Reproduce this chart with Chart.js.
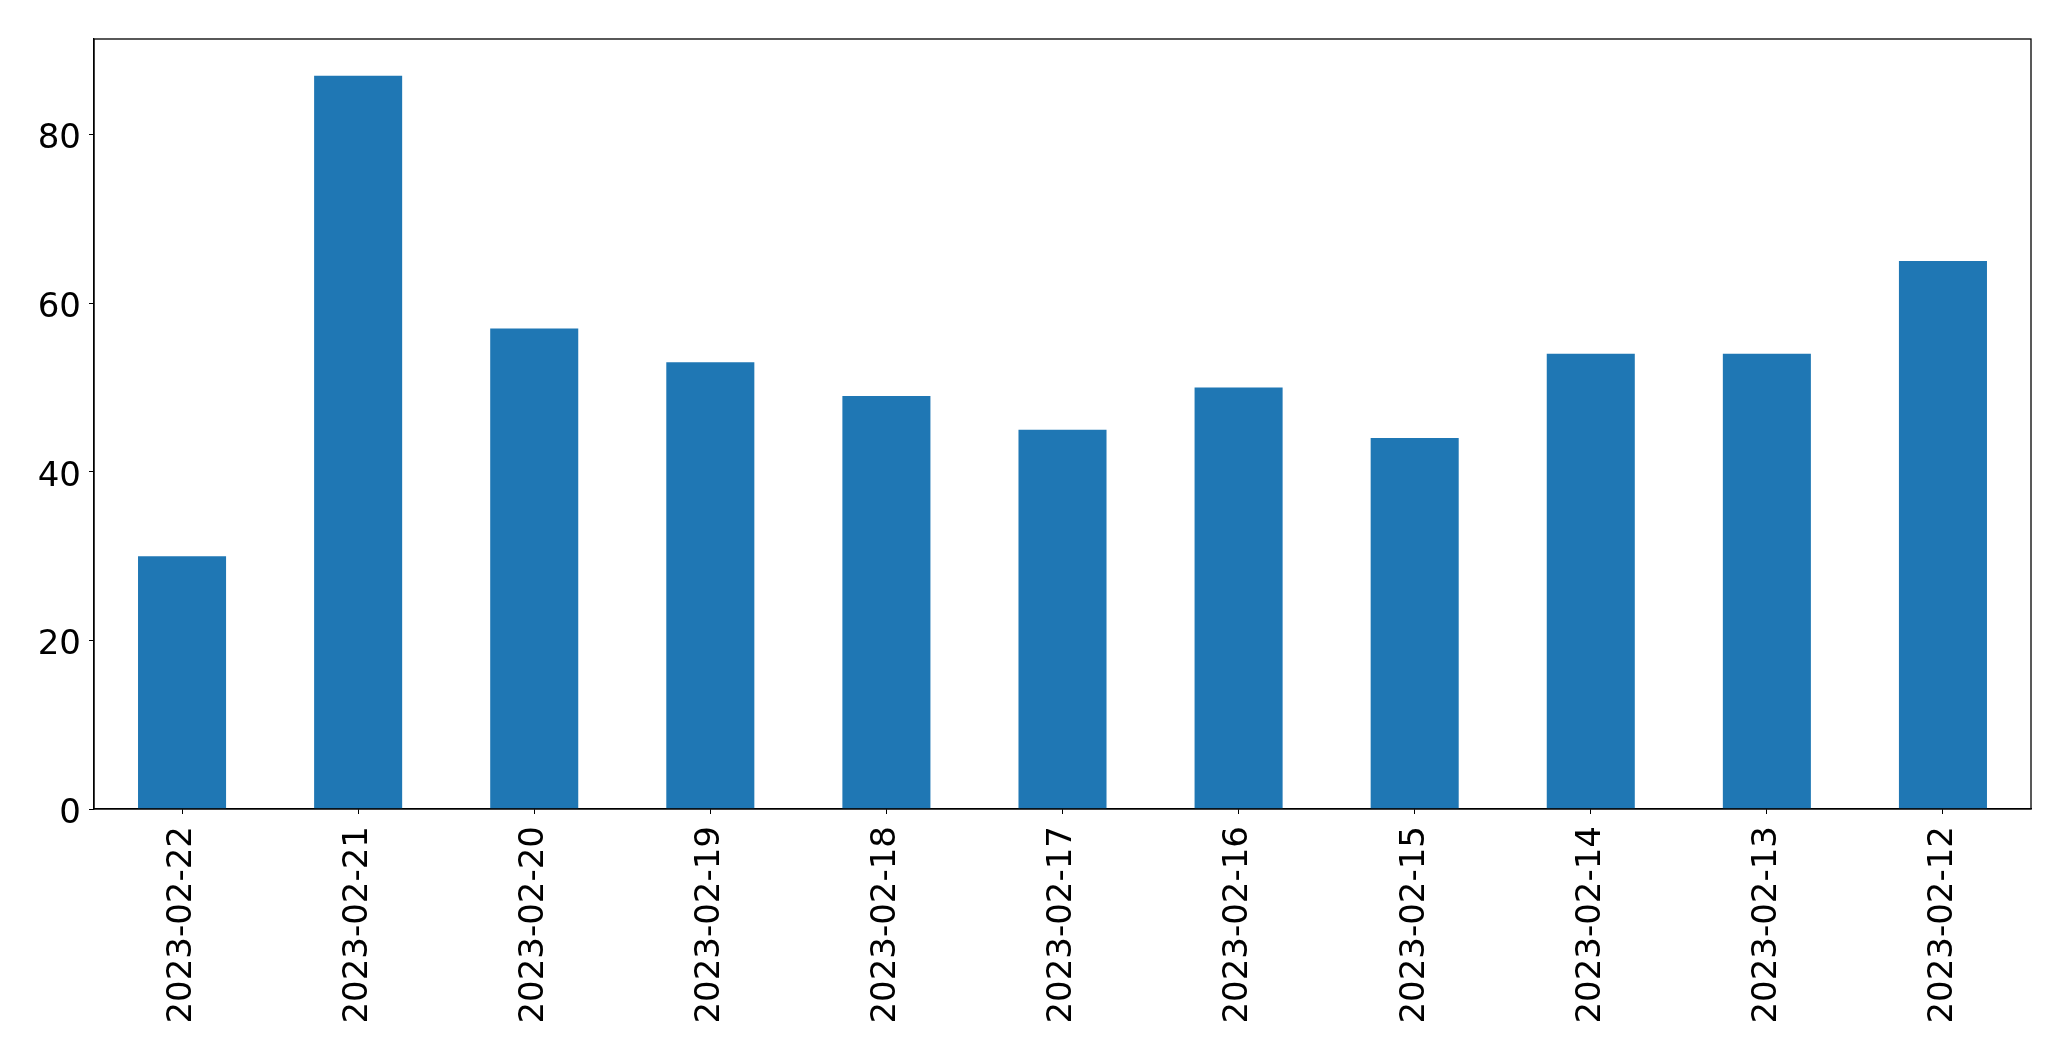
<!DOCTYPE html>
<html>
<head>
<meta charset="utf-8">
<script src="https://cdn.jsdelivr.net/npm/chart.js@4/dist/chart.umd.min.js"></script>
<style>
  html, body { margin: 0; padding: 0; background: #fff; }
  #wrap { width: 2071px; height: 1061px; }
</style>
</head>
<body>
<div id="wrap"><canvas id="chart" width="2071" height="1061"></canvas></div>
<script>
const dates = [
  '2023-02-22', '2023-02-21', '2023-02-20', '2023-02-19', '2023-02-18', '2023-02-17',
  '2023-02-16', '2023-02-15', '2023-02-14', '2023-02-13', '2023-02-12'
];
const counts = [30, 87, 57, 53, 49, 45, 50, 44, 54, 54, 65];
const yTicks = [0, 20, 40, 60, 80];
const yMax = 91.35;

// matplotlib-style closed frame around the plot area
const frame = {
  id: 'frame',
  afterDatasetsDraw(chart) {
    const { ctx, chartArea: a } = chart;
    ctx.save();
    ctx.strokeStyle = '#000';
    ctx.lineWidth = 1.3;
    ctx.strokeRect(a.left, a.top, a.right - a.left, a.bottom - a.top);
    ctx.restore();
  }
};

const font = { family: 'DejaVu Sans', size: 34 };

new Chart(document.getElementById('chart'), {
  type: 'bar',
  data: {
    labels: dates,
    datasets: [{
      data: counts,
      backgroundColor: '#1f77b4',
      barPercentage: 0.5,
      categoryPercentage: 1.0
    }]
  },
  options: {
    responsive: false,
    animation: false,
    layout: { padding: { top: 39, right: 40, bottom: 0, left: 0 } },
    plugins: { legend: { display: false }, tooltip: { enabled: false } },
    scales: {
      x: {
        offset: true,
        grid: { display: true, drawOnChartArea: false, drawTicks: true, tickLength: 5, color: '#000', offset: false },
        border: { display: true, color: '#000', width: 1.3 },
        ticks: { color: '#000', font, minRotation: 90, maxRotation: 90, padding: 12, autoSkip: false },
        afterFit(scale) { scale.height = 252; }
      },
      y: {
        min: 0,
        max: yMax,
        afterBuildTicks(scale) { scale.ticks = yTicks.map(v => ({ value: v })); },
        grid: { display: true, drawOnChartArea: false, drawTicks: true, tickLength: 5, color: '#000' },
        border: { display: true, color: '#000', width: 1.3 },
        ticks: { color: '#000', font, padding: 8, labelOffset: 5 },
        afterFit(scale) { scale.width = 94; }
      }
    }
  },
  plugins: [frame]
});
</script>
</body>
</html>
